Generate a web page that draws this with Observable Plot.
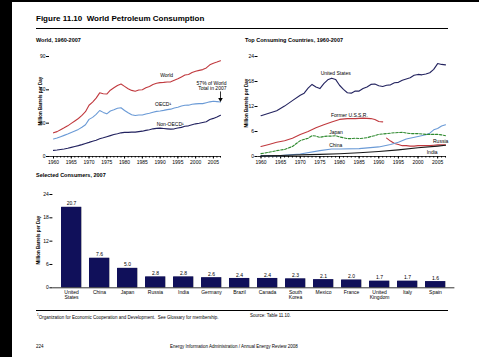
<!DOCTYPE html>
<html><head><meta charset="utf-8">
<script src="https://cdn.jsdelivr.net/npm/d3@7"></script>
<script src="https://cdn.jsdelivr.net/npm/@observablehq/plot@0.6"></script>
<style>
html,body{margin:0;padding:0;background:#000;}
#root{position:relative;width:479px;height:357px;overflow:hidden;background:#000;}
#page{position:absolute;left:12px;top:2px;width:467px;height:355px;background:#fff;}
.t{position:absolute;font-family:"Liberation Sans",Arial,sans-serif;color:#000;white-space:nowrap;line-height:1;}
.rot{transform:translate(-50%,-50%) rotate(-90deg);font-weight:bold;}
.rule{position:absolute;background:#000;height:1px;}
.plotbox{position:absolute;}
</style></head><body>
<div id="root">
<div id="page"></div>
<div class="t" style="left:36px;top:15px;font-size:8px;font-weight:bold;">Figure 11.10&nbsp; World Petroleum Consumption</div>
<div class="rule" style="left:36px;top:28px;width:412px;"></div>
<div class="t" style="left:36px;top:37.5px;font-size:5.5px;font-weight:bold;">World, 1960-2007</div>
<div class="t" style="left:245px;top:37.5px;font-size:5.5px;font-weight:bold;">Top Consuming Countries, 1960-2007</div>
<div class="t" style="left:36px;top:172.5px;font-size:5.5px;font-weight:bold;">Selected Consumers, 2007</div>
<div class="t rot" style="left:40.5px;top:101px;font-size:4.5px;">Million Barrels per Day</div>
<div class="t rot" style="left:246.5px;top:103px;font-size:4.5px;">Million Barrels per Day</div>
<div class="t rot" style="left:38.5px;top:240px;font-size:4.5px;">Million Barrels per Day</div>
<div id="p1" class="plotbox" style="left:12px;top:45px;"></div>
<div id="p2" class="plotbox" style="left:240px;top:45px;"></div>
<div id="p3" class="plotbox" style="left:12px;top:185px;"></div>
<div class="rule" style="left:36px;top:310px;width:412px;"></div>
<div class="t" style="left:37px;top:314px;font-size:4.5px;"><sup style="font-size:3px">1</sup>Organization for Economic Cooperation and Development.&nbsp; See Glossary for membership.</div>
<div class="t" style="left:250px;top:314px;font-size:4.5px;">Source: Table 11.10.</div>
<div class="t" style="left:36px;top:345px;font-size:4.5px;">224</div>
<div class="t" style="left:170px;top:345px;font-size:4.5px;">Energy Information Administration / Annual Energy Review 2008</div>
</div>
<script>
const FONT = '"Liberation Sans", Arial, sans-serif';

// ---------- World, 1960-2007 ----------
const worldYears = [1960,1961,1962,1963,1964,1965,1966,1967,1968,1969,1970,1971,1972,1973,1974,1975,1976,1977,1978,1979,1980,1981,1982,1983,1984,1985,1986,1987,1988,1989,1990,1991,1992,1993,1994,1995,1996,1997,1998,1999,2000,2001,2002,2003,2004,2005,2006,2007];
const worldTotal = [21.3,22.4,24.1,25.8,27.6,29.8,32.0,34.2,37.0,40.3,46.1,49.0,52.5,57.3,56.5,56.2,59.7,61.8,63.9,65.2,63.1,61.0,59.5,58.8,59.8,60.1,61.8,63.0,64.8,65.9,66.5,66.7,67.1,67.2,68.6,69.9,71.6,73.3,73.8,75.6,76.8,77.5,78.2,79.7,82.5,84.0,85.0,86.2];
const oecd = [15.8,16.6,17.8,19.0,20.2,21.6,23.0,24.4,26.3,28.6,33.4,35.2,37.9,41.4,39.7,38.4,40.9,42.0,43.4,43.9,41.4,39.3,37.6,36.9,37.4,37.3,38.3,38.9,39.9,40.6,41.0,41.5,42.2,42.6,43.7,44.3,45.4,46.1,46.2,47.0,47.4,47.6,47.6,48.4,49.2,49.7,49.4,49.1];
const nonOecd = [5.5,5.8,6.3,6.8,7.4,8.2,9.0,9.8,10.7,11.7,12.7,13.8,14.6,15.9,16.8,17.8,18.8,19.8,20.5,21.3,21.7,21.7,21.9,21.9,22.4,22.8,23.5,24.1,24.9,25.3,25.5,25.2,24.9,24.6,24.9,25.6,26.2,27.2,27.6,28.6,29.4,29.9,30.6,31.3,33.3,34.3,35.6,37.1];
const worldSeries = ["World","OECD¹","Non-OECD¹"];
const worldColors = ["#c0393e","#6a9ad6","#22225f"];
const worldTicksY = [0,30,60,90];
const yearTicks = [1960,1965,1970,1975,1980,1985,1990,1995,2000,2005];
const oecdShareNote = "57% of World\nTotal in 2007";

// ---------- Top Consuming Countries ----------
const usYears = [1960,1962,1964,1966,1968,1970,1971,1972,1973,1974,1975,1976,1977,1978,1979,1980,1981,1982,1983,1984,1985,1986,1987,1988,1989,1990,1991,1992,1993,1994,1995,1996,1997,1998,1999,2000,2001,2002,2003,2004,2005,2006,2007];
const usValues = [9.8,10.4,11.0,12.1,13.4,14.7,15.2,16.4,17.3,16.7,16.3,17.5,18.4,18.8,18.5,17.1,16.1,15.3,15.2,15.7,15.7,16.3,16.7,17.3,17.4,17.0,16.8,17.1,17.2,17.7,17.8,18.3,18.6,18.9,19.5,19.7,19.6,19.8,20.1,20.9,22.3,22.1,22.0];
const ussrYears = [1960,1962,1964,1966,1968,1970,1972,1974,1976,1978,1980,1982,1984,1986,1988,1989,1990,1991];
const ussrValues = [2.4,2.9,3.4,3.8,4.4,5.3,6.0,6.9,7.6,8.3,8.9,9.1,9.1,9.2,9.1,8.9,8.4,8.3];
const russiaYears = [1992,1993,1994,1995,1996,1997,1998,1999,2000,2001,2002,2003,2004,2005,2006,2007];
const russiaValues = [4.4,3.7,3.1,2.9,2.6,2.6,2.5,2.5,2.6,2.6,2.6,2.6,2.7,2.8,2.8,2.8];
const japanYears = [1960,1962,1964,1966,1968,1970,1972,1973,1974,1975,1976,1977,1978,1979,1980,1981,1982,1983,1984,1985,1986,1987,1988,1989,1990,1992,1994,1996,1998,2000,2002,2004,2005,2006,2007];
const japanValues = [0.7,1.0,1.4,1.7,2.4,3.8,4.4,5.0,4.9,4.6,4.8,4.9,4.9,5.0,4.7,4.5,4.3,4.3,4.4,4.3,4.4,4.5,4.8,5.0,5.3,5.5,5.7,5.8,5.5,5.5,5.3,5.3,5.3,5.2,5.0];
const chinaYears = [1960,1965,1970,1975,1978,1980,1985,1990,1993,1995,1997,2000,2002,2003,2004,2005,2006,2007];
const chinaValues = [0.2,0.2,0.6,1.4,1.8,1.8,1.9,2.3,2.9,3.4,4.2,4.8,5.2,5.6,6.4,6.7,7.3,7.6];
const indiaYears = [1960,1965,1970,1975,1980,1985,1990,1995,2000,2005,2007];
const indiaValues = [0.15,0.25,0.4,0.5,0.65,0.9,1.2,1.6,2.1,2.5,2.7];
const countrySeries = ["United States","Former U.S.S.R.","Russia","Japan","China","India"];
const countryColors = ["#23235f","#c0393e","#c0393e","#2f8a2f","#6a9ad6","#1a1a1a"];
const countryTicksY = [0,6,12,18,24];

// ---------- Selected Consumers, 2007 ----------
const consumers = ["United States","China","Japan","Russia","India","Germany","Brazil","Canada","South Korea","Mexico","France","United Kingdom","Italy","Spain"];
const consumption2007 = [20.7,7.6,5.0,2.8,2.8,2.6,2.4,2.4,2.3,2.1,2.0,1.7,1.7,1.6];
const barTicksY = [0,6,12,18,24];

// ---------- build tables ----------
const worldRows = [];
worldYears.forEach((yr,i)=>{
  worldRows.push({year:yr, value:worldTotal[i], series:worldSeries[0]});
  worldRows.push({year:yr, value:oecd[i], series:worldSeries[1]});
  worldRows.push({year:yr, value:nonOecd[i], series:worldSeries[2]});
});
const pick = (rows, s, yr) => rows.filter(d => d.series === s && d.year === yr);

function seriesRows(name, years, values){ return years.map((y,i)=>({year:y, value:values[i], series:name})); }
const countryRows = [
  ...seriesRows(countrySeries[0], usYears, usValues),
  ...seriesRows(countrySeries[1], ussrYears, ussrValues),
  ...seriesRows(countrySeries[2], russiaYears, russiaValues),
  ...seriesRows(countrySeries[3], japanYears, japanValues),
  ...seriesRows(countrySeries[4], chinaYears, chinaValues),
  ...seriesRows(countrySeries[5], indiaYears, indiaValues)
];
const barRows = consumers.map((c,i)=>({country:c, value:consumption2007[i]}));

const baseStyle = {background:"transparent", fontFamily:FONT, fontSize:"5px", color:"#000", overflow:"visible"};
const lbl = (extra) => Object.assign({fontSize:5, fill:"#000", fontFamily:FONT}, extra);

// ---------- Plot 1 ----------
const p1 = Plot.plot({
  width:228, height:125, marginLeft:37, marginRight:20, marginTop:11, marginBottom:14,
  style: baseStyle,
  x:{domain:[1960,2007], insetLeft:4, label:null},
  y:{domain:[0,90], label:null},
  color:{domain:worldSeries, range:worldColors},
  marks:[
    Plot.ruleY([0], {stroke:"#000", strokeWidth:0.8}),
    Plot.axisY(worldTicksY, {tickSize:3, tickPadding:1, fontSize:5, label:null}),
    Plot.axisX(worldYears, {tickSize:1.5, tickFormat:()=>"", label:null}),
    Plot.axisX(yearTicks, {tickSize:2.5, tickPadding:1, tickFormat:"d", fontSize:5, label:null}),
    Plot.line(worldRows, {x:"year", y:"value", z:"series", stroke:"series", strokeWidth:1.1}),
    Plot.text(pick(worldRows, worldSeries[0], 1991), lbl({x:"year", y:"value", text:()=>"World", dx:3, dy:-7})),
    Plot.text(pick(worldRows, worldSeries[1], 1990), lbl({x:"year", y:"value", text:"series", dx:3, dy:-7})),
    Plot.text(pick(worldRows, worldSeries[2], 1992), lbl({x:"year", y:"value", text:"series", dx:3, dy:-4.5})),
    Plot.text(pick(worldRows, worldSeries[1], 2007), lbl({x:"year", y:"value", text:()=>oecdShareNote, textAnchor:"end", lineAnchor:"bottom", dx:6, dy:-11.5, lineHeight:1.1})),
    Plot.ruleX(pick(worldRows, worldSeries[1], 2007), {x:"year", y1:d=>d.value+9, y2:d=>d.value+3, stroke:"#000", strokeWidth:0.8}),
    Plot.dot(pick(worldRows, worldSeries[1], 2007), {x:"year", y:"value", symbol:"triangle", r:1.7, fill:"#000", rotate:180, dy:-2.6})
  ]
});
document.getElementById("p1").appendChild(p1);

// ---------- Plot 2 ----------
const p2 = Plot.plot({
  width:230, height:125, marginLeft:17.5, marginRight:25, marginTop:11, marginBottom:14,
  style: baseStyle,
  x:{domain:[1960,2007], insetLeft:3, label:null},
  y:{domain:[0,24], label:null},
  color:{domain:countrySeries, range:countryColors},
  marks:[
    Plot.ruleY([0], {stroke:"#000", strokeWidth:0.8}),
    Plot.axisY(countryTicksY, {tickSize:3, tickPadding:1, fontSize:5, label:null}),
    Plot.axisX(worldYears, {tickSize:1.5, tickFormat:()=>"", label:null}),
    Plot.axisX(yearTicks, {tickSize:2.5, tickPadding:1, tickFormat:"d", fontSize:5, label:null}),
    Plot.line(countryRows.filter(d=>d.series!==countrySeries[3]), {x:"year", y:"value", z:"series", stroke:"series", strokeWidth:1.1}),
    Plot.line(countryRows.filter(d=>d.series===countrySeries[3]), {x:"year", y:"value", stroke:"series", strokeWidth:1.1, strokeDasharray:"2.5,1.5"}),
    Plot.text(pick(countryRows, countrySeries[0], 1978), lbl({x:"year", y:"value", text:"series", dx:4, dy:-5})),
    Plot.text(pick(countryRows, countrySeries[1], 1982), lbl({x:"year", y:"value", text:"series", dx:2, dy:-3.5})),
    Plot.text(pick(countryRows, countrySeries[3], 1979), lbl({x:"year", y:"value", text:"series", dx:0.5, dy:-3.5})),
    Plot.text(pick(countryRows, countrySeries[4], 1978), lbl({x:"year", y:"value", text:"series", dx:4, dy:-3.5})),
    Plot.text(pick(countryRows, countrySeries[2], 2005), lbl({x:"year", y:"value", text:"series", dx:3, dy:-3.5})),
    Plot.text(pick(countryRows, countrySeries[5], 2005), lbl({x:"year", y:"value", text:"series", dx:-5.5, dy:6.7}))
  ]
});
document.getElementById("p2").appendChild(p2);

// ---------- Plot 3 ----------
const p3 = Plot.plot({
  width:460, height:125, marginLeft:40.4, marginRight:17.6, marginTop:9, marginBottom:22.7,
  style: baseStyle,
  x:{domain:consumers, paddingInner:0.27, paddingOuter:0.135, label:null},
  y:{domain:[0,24], label:null},
  marks:[
    Plot.barY(barRows, {x:"country", y:"value", fill:"#b0b0b8", dx:1}),
    Plot.barY(barRows, {x:"country", y:"value", fill:"#10105a"}),
    Plot.ruleY([0], {stroke:"#000", strokeWidth:0.8}),
    Plot.axisY(barTicksY, {tickSize:3, tickPadding:1, fontSize:5, label:null}),
    Plot.axisX(consumers, {tickSize:0, tickPadding:2.5, fontSize:5, lineHeight:1, tickFormat:d=>d.replace(" ","\n"), label:null}),
    Plot.text(barRows, lbl({x:"country", y:"value", text:d=>d.value.toFixed(1), dy:-3.5}))
  ]
});
document.getElementById("p3").appendChild(p3);
</script>
</body></html>
